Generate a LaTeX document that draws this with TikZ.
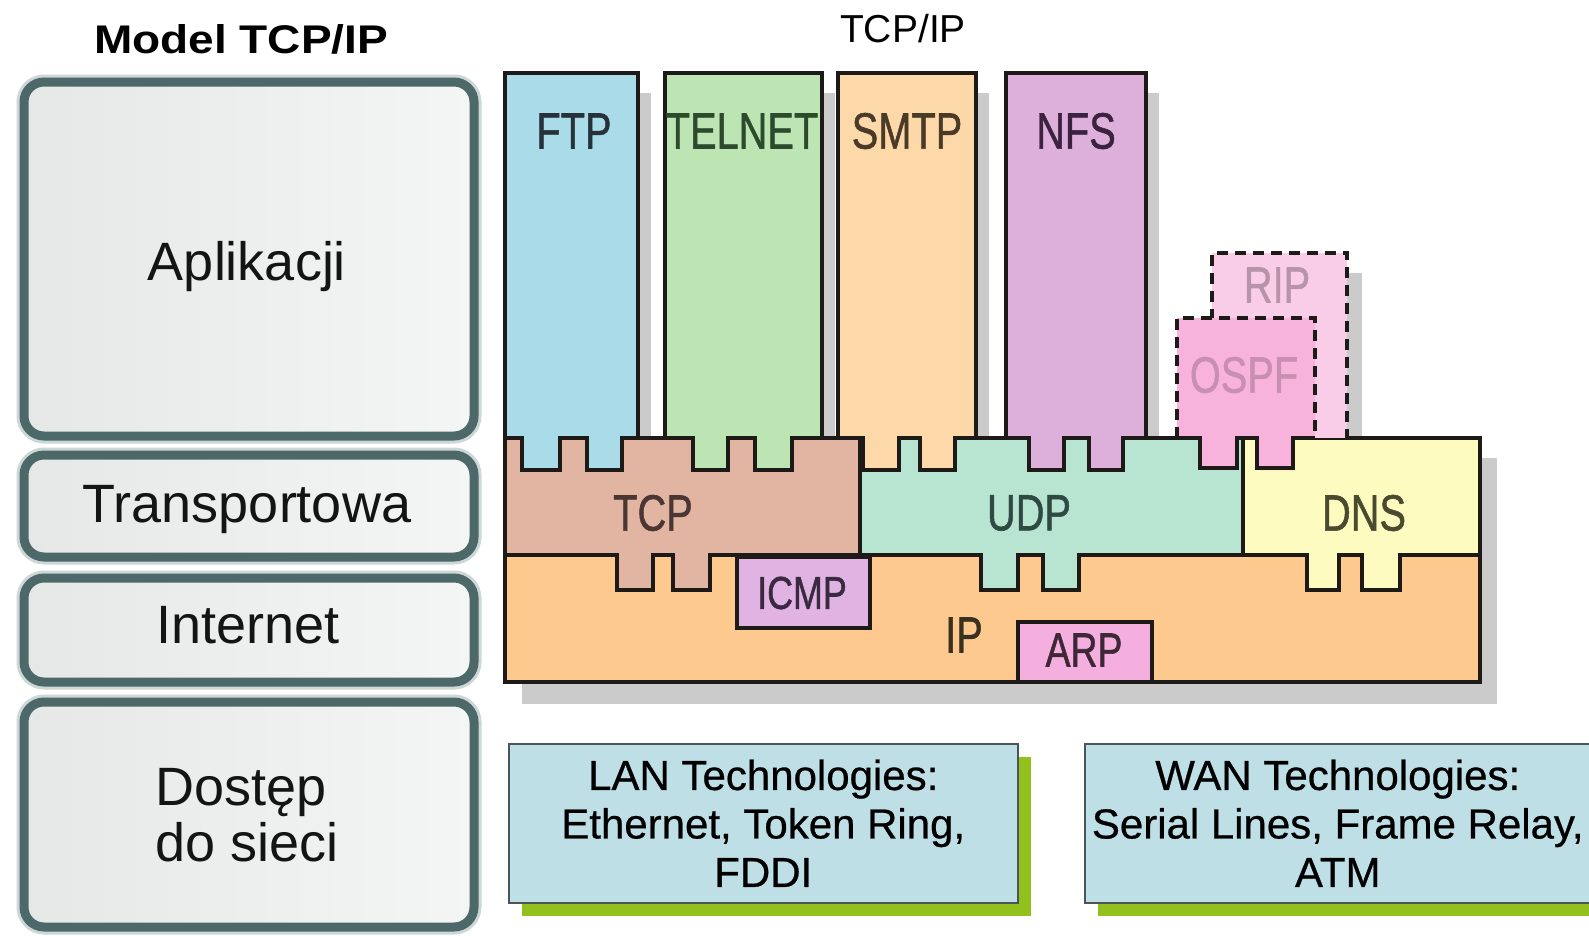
\documentclass[tikz,border=0pt]{standalone}
\usepackage{fontspec}
\setmainfont{Liberation Sans}
\newfontfamily\protofont[FakeBold=1.2]{Liberation Sans}
\newfontfamily\techfont[FakeBold=0.6]{Liberation Sans}
\usetikzlibrary{shadows}

% layer boxes on the left
\definecolor{layeredge}{HTML}{4D6868}
\definecolor{layerhalo}{HTML}{CDD7D7}
\definecolor{layerl}{HTML}{E6E8E8}
\definecolor{layerr}{HTML}{F4F5F5}
% protocol stack
\definecolor{edge}{HTML}{1E1A18}
\definecolor{shadowgray}{HTML}{CBCBCB}
\definecolor{ftpc}{HTML}{A9DBE9}\definecolor{ftpt}{HTML}{27313A}
\definecolor{telc}{HTML}{BDE5B4}\definecolor{telt}{HTML}{2C4A2C}
\definecolor{smtpc}{HTML}{FDD8A8}\definecolor{smtpt}{HTML}{4A3A28}
\definecolor{nfsc}{HTML}{DCB0DA}\definecolor{nfst}{HTML}{3A2240}
\definecolor{tcpc}{HTML}{E2B5A3}\definecolor{tcpt}{HTML}{4A3632}
\definecolor{udpc}{HTML}{B8E5D2}\definecolor{udpt}{HTML}{2E4A42}
\definecolor{dnsc}{HTML}{FDFBC0}\definecolor{dnst}{HTML}{4A4A30}
\definecolor{ipc}{HTML}{FDC98E}\definecolor{ipt}{HTML}{3A3020}
\definecolor{icmpc}{HTML}{E0B3E3}\definecolor{icmpt}{HTML}{3A2A40}
\definecolor{arpc}{HTML}{F5AFDF}\definecolor{arpt}{HTML}{3E2838}
\definecolor{ospfc}{HTML}{F7B3DC}\definecolor{ospft}{HTML}{C98FB3}
\definecolor{ripc}{HTML}{F9CDE8}\definecolor{ript}{HTML}{B894AA}
% technology boxes
\definecolor{techfill}{HTML}{BDDFE5}
\definecolor{techedge}{HTML}{4A5558}
\definecolor{techgreen}{HTML}{92C11E}

% application column: style, left, right, top, tab1 left, tab1 right, tab2 left, tab2 right
\newcommand\appcol[8]{%
  \path[#1] (#2,#4) -- (#3,#4) -- (#3,438) -- (#8,438) -- (#8,470) -- (#7,470) -- (#7,438)
    -- (#6,438) -- (#6,470) -- (#5,470) -- (#5,438) -- (#2,438) -- cycle;}
% transport piece: style, left, right, tab1 left, tab1 right, tab2 left, tab2 right
\newcommand\transpiece[7]{%
  \path[#1] (#2,438) -- (#3,438) -- (#3,555) -- (#7,555) -- (#7,590) -- (#6,590) -- (#6,555)
    -- (#5,555) -- (#5,590) -- (#4,590) -- (#4,555) -- (#2,555) -- cycle;}

\tikzset{
  layerhalo/.style={draw=layerhalo, line width=15pt, rounded corners=20pt},
  layerbox/.style={draw=layeredge, line width=9pt, rounded corners=20pt,
    left color=layerl, middle color=white, right color=layerr},
  layertxt/.style={font=\fontsize{54}{55}\selectfont, text=black!92, inner sep=0pt},
  proto/.style={draw=edge, line width=3.5pt, line join=miter},
  dashline/.style={draw=edge, line width=3.5pt, dash pattern=on 11pt off 7pt},
  ptxt/.style={font=\protofont\fontsize{51}{56}\selectfont, xscale=0.78, inner sep=0pt},
  shadowbox/.style={fill=shadowgray},
  techbox/.style={draw=techedge, line width=1.5pt, fill=techfill, inner sep=0pt,
    anchor=north west, align=center, font=\techfont\fontsize{42}{48.5}\selectfont,
    drop shadow={shadow xshift=13pt, shadow yshift=-13pt, fill=techgreen, opacity=1}},
}

\begin{document}
\begin{tikzpicture}[x=1pt,y=-1pt]
\useasboundingbox (0,0) rectangle (1589,935);
\fill[white] (0,0) rectangle (1589,935);

% ---------- headings ----------
\node[font=\bfseries\fontsize{40}{44}\selectfont, xscale=1.15, inner sep=0pt] (model) at (241,39) {Model TCP/IP};
\node[font=\fontsize{39}{44}\selectfont, inner sep=0pt] (stacktitle) at (903,29) {TCP/IP};

% ---------- model layers ----------
\foreach \t/\b in {82/436, 455/557, 578/682, 702/927}{
  \draw[layerhalo] (24,\t) rectangle (474,\b);
  \draw[layerbox] (24,\t) rectangle (474,\b);
}
\node[layertxt, anchor=base] (app) at (247,280) {Aplikacji};
\node[layertxt, anchor=base] (trans) at (247,522) {Transportowa};
\node[layertxt, anchor=base] (inet) at (248,643) {Internet};
\node[layertxt, anchor=base west] (acc1) at (155,805) {Dostęp};
\node[layertxt, anchor=base west] (acc2) at (155,861) {do sieci};

% ---------- shadows ----------
\fill[shadowbox] (520,93) rectangle (651,458);
\fill[shadowbox] (680,93) rectangle (835,458);
\fill[shadowbox] (853,93) rectangle (989,458);
\fill[shadowbox] (1021,93) rectangle (1159,458);
\fill[shadowbox] (1227,273) rectangle (1362,458);
\fill[shadowbox] (522,458) rectangle (1497,704);

% ---------- internet layer ----------
\path[proto, fill=ipc] (505,555) rectangle (1480,682);

% ---------- transport layer ----------
\transpiece{proto, fill=tcpc}{505}{860}{617}{653}{673}{710}
\transpiece{proto, fill=udpc}{860}{1243}{981}{1018}{1043}{1079}
\transpiece{proto, fill=dnsc}{1243}{1480}{1307}{1339}{1362}{1400}

\path[proto, fill=icmpc] (737,557) rectangle (870,628);
\path[proto, fill=arpc] (1018,622) rectangle (1152,682);

% ---------- application layer ----------
\appcol{proto, fill=ftpc}{505}{638}{73}{522}{560}{587}{622}
\appcol{proto, fill=telc}{665}{822}{73}{693}{728}{755}{792}
\appcol{proto, fill=smtpc}{838}{976}{73}{863}{899}{920}{955}
\appcol{proto, fill=nfsc}{1006}{1146}{73}{1029}{1064}{1089}{1123}

% routing protocols (dashed)
\fill[ripc] (1212,253) rectangle (1347,438);
\draw[dashline] (1212,320) -- (1212,253) -- (1347,253) -- (1347,438);
\appcol{fill=ospfc}{1177}{1315}{318}{1200}{1237}{1257}{1293}
\draw[dashline] (1177,438) -- (1177,318) -- (1315,318) -- (1315,438);
\draw[proto] (1177,438) -- (1200,438) -- (1200,468) -- (1237,468) -- (1237,438)
  -- (1257,438) -- (1257,468) -- (1293,468) -- (1293,438) -- (1315,438);

% ---------- protocol labels ----------
\node[ptxt, text=ftpt] (ftp) at (574,131) {FTP};
\node[ptxt, text=telt] (telnet) at (742,131) {TELNET};
\node[ptxt, text=smtpt] (smtp) at (907,131) {SMTP};
\node[ptxt, text=nfst] (nfs) at (1076,131) {NFS};
\node[ptxt, text=ript] (rip) at (1277,285) {RIP};
\node[ptxt, text=ospft] (ospf) at (1244,375) {OSPF};
\node[ptxt, text=tcpt] (tcp) at (653,513) {TCP};
\node[ptxt, text=udpt] (udp) at (1029,513) {UDP};
\node[ptxt, text=dnst] (dns) at (1364,513) {DNS};
\node[ptxt, text=icmpt, font=\protofont\fontsize{46}{50}\selectfont] (icmp) at (802,593) {ICMP};
\node[ptxt, text=ipt] (ip) at (964,635) {IP};
\node[ptxt, text=arpt, font=\protofont\fontsize{48}{50}\selectfont] (arp) at (1084,650) {ARP};

% ---------- network access technologies ----------
\node[techbox, minimum width=509pt, minimum height=159pt] (lan) at (508,743)
  {LAN Technologies:\\Ethernet, Token Ring,\\FDDI};
\node[techbox, minimum width=506pt, minimum height=159pt] (wan) at (1084,743)
  {WAN Technologies:\\Serial Lines, Frame Relay,\\ATM};
\end{tikzpicture}
\end{document}
